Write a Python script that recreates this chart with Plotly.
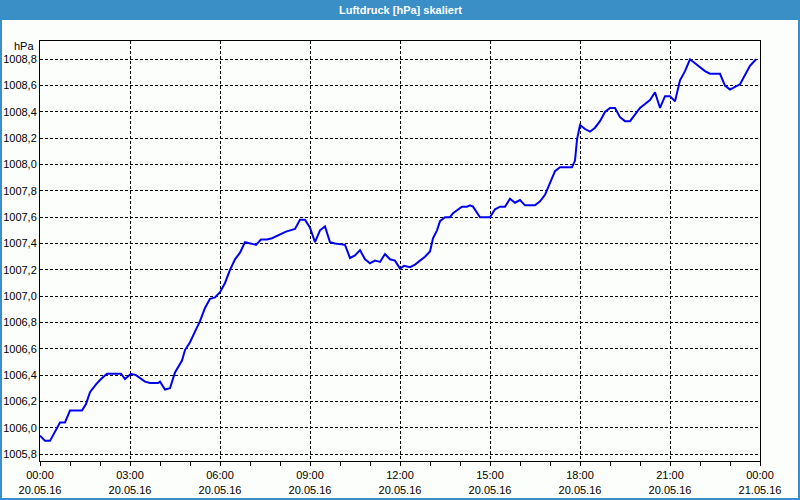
import pandas as pd
import plotly.graph_objects as go

# minutes after 20.05.16 00:00
minutes = [0,10,20,30,40,50,60,84,92,100,
           112,122,134,162,170,182,192,210,220,236,
           240,250,260,270,276,284,290,300,310,320,
           330,340,350,360,370,380,390,400,410,420,
           432,442,454,464,476,492,510,520,530,540,
           550,560,570,580,590,610,620,630,640,650,
           660,670,680,690,700,710,720,728,740,750,
           760,770,780,786,794,800,810,820,826,844,
           854,860,866,880,900,910,920,930,940,950,
           960,970,990,1000,1010,1020,1030,1040,1064,1070,
           1074,1080,1090,1100,1110,1120,1130,1140,1150,1160,
           1170,1180,1190,1200,1210,1220,1230,1240,1250,1260,
           1270,1280,1290,1300,1310,1320,1330,1340,1360,1370,
           1380,1390,1400,1410,1420,1432]

pressure = [1005.94,1005.90,1005.90,1005.97,1006.04,1006.04,1006.13,1006.13,1006.18,1006.27,
            1006.33,1006.37,1006.41,1006.41,1006.37,1006.41,1006.40,1006.35,1006.34,1006.34,
            1006.35,1006.29,1006.30,1006.42,1006.46,1006.51,1006.59,1006.65,1006.73,1006.81,
            1006.91,1006.98,1006.99,1007.03,1007.10,1007.20,1007.28,1007.33,1007.41,1007.40,
            1007.39,1007.43,1007.43,1007.44,1007.46,1007.49,1007.51,1007.58,1007.58,1007.52,
            1007.41,1007.50,1007.53,1007.41,1007.40,1007.39,1007.29,1007.31,1007.35,1007.28,
            1007.25,1007.27,1007.26,1007.32,1007.28,1007.27,1007.21,1007.23,1007.22,1007.24,
            1007.27,1007.30,1007.34,1007.44,1007.50,1007.57,1007.60,1007.60,1007.63,1007.68,
            1007.68,1007.69,1007.68,1007.60,1007.60,1007.66,1007.68,1007.68,1007.74,1007.71,
            1007.73,1007.69,1007.69,1007.72,1007.77,1007.86,1007.95,1007.98,1007.98,1008.03,
            1008.19,1008.30,1008.27,1008.25,1008.28,1008.33,1008.40,1008.43,1008.43,1008.36,
            1008.33,1008.33,1008.38,1008.43,1008.46,1008.49,1008.55,1008.43,1008.52,1008.52,
            1008.48,1008.64,1008.71,1008.80,1008.77,1008.74,1008.71,1008.69,1008.69,1008.60,
            1008.57,1008.59,1008.61,1008.68,1008.75,1008.80]

tick_times = ["2016-05-20 00:00", "2016-05-20 03:00", "2016-05-20 06:00", "2016-05-20 09:00",
              "2016-05-20 12:00", "2016-05-20 15:00", "2016-05-20 18:00", "2016-05-20 21:00",
              "2016-05-21 00:00"]
tick_labels = ["00:00<br>20.05.16", "03:00<br>20.05.16", "06:00<br>20.05.16", "09:00<br>20.05.16",
               "12:00<br>20.05.16", "15:00<br>20.05.16", "18:00<br>20.05.16", "21:00<br>20.05.16",
               "00:00<br>21.05.16"]
y_ticks = [1005.8, 1006.0, 1006.2, 1006.4, 1006.6, 1006.8, 1007.0, 1007.2,
           1007.4, 1007.6, 1007.8, 1008.0, 1008.2, 1008.4, 1008.6, 1008.8]

title_text = "Luftdruck [hPa] skaliert"
unit_text = "hPa"

start = pd.Timestamp("2016-05-20 00:00")
times = [start + pd.Timedelta(minutes=m) for m in minutes]

W, H = 800, 500
L, R, T, B = 40, 40, 41, 39
pw, ph = W - L - R, H - T - B

def px_x(p):
    return (p - L) / pw

def px_y(p):
    return 1 - (p - T) / ph

FONT = "Liberation Sans"
BLUE_BAR = "#3b8fc7"

fig = go.Figure()
fig.add_trace(go.Scatter(x=times, y=pressure, mode="lines",
                         line=dict(color="#0000f0", width=2), showlegend=False,
                         hoverinfo="skip"))

fig.update_layout(
    width=W, height=H,
    margin=dict(l=L, r=R, t=T, b=B, pad=0, autoexpand=False),
    paper_bgcolor="#fcfefc", plot_bgcolor="#fcfefc",
    separators=",.",
    font=dict(family=FONT, size=11, color="black"),
    xaxis=dict(
        type="date", automargin=False,
        range=["2016-05-20 00:00", "2016-05-21 00:00"],
        tickmode="array", tickvals=tick_times, ticktext=tick_labels,
        ticks="outside", ticklen=4, tickcolor="black", tickwidth=1,
        showgrid=True, gridcolor="black", gridwidth=1, griddash="3px,2px",
        showline=True, linecolor="black", linewidth=1, mirror=True,
        zeroline=False,
        minor=dict(tick0="2016-05-20 00:00", dtick=3600000, ticks="outside",
                   ticklen=4, tickcolor="black", showgrid=False),
        tickfont=dict(family=FONT, size=11, color="black"),
    ),
    yaxis=dict(
        automargin=False,
        range=[1005.747, 1008.939],
        tickmode="array", tickvals=y_ticks, tickformat=".1f",
        ticks="",
        showgrid=True, gridcolor="black", gridwidth=1, griddash="3px,2px",
        showline=True, linecolor="black", linewidth=1, mirror=True,
        zeroline=False,
        tickfont=dict(family=FONT, size=11, color="black"),
    ),
    shapes=[
        dict(type="rect", xref="paper", yref="paper",
             x0=px_x(0), x1=px_x(W), y0=px_y(0), y1=px_y(20),
             fillcolor=BLUE_BAR, line=dict(width=0), layer="above"),
        dict(type="rect", xref="paper", yref="paper",
             x0=px_x(1), x1=px_x(W - 1), y0=px_y(1), y1=px_y(H - 1),
             fillcolor="rgba(0,0,0,0)", line=dict(color=BLUE_BAR, width=2), layer="above"),
    ],
    annotations=[
        dict(text="<b>" + title_text + "</b>", xref="paper", yref="paper",
             x=px_x(400), y=px_y(10), xanchor="center", yanchor="middle",
             showarrow=False, font=dict(family=FONT, size=11, color="white")),
        dict(text=unit_text, xref="paper", yref="paper",
             x=px_x(36), y=px_y(46), xanchor="right", yanchor="middle",
             showarrow=False, font=dict(family=FONT, size=11, color="black")),
    ],
)

fig.write_html("out.html", config={"responsive": False, "displayModeBar": False},
               post_script="document.body.style.margin='0';document.body.style.padding='0';")
